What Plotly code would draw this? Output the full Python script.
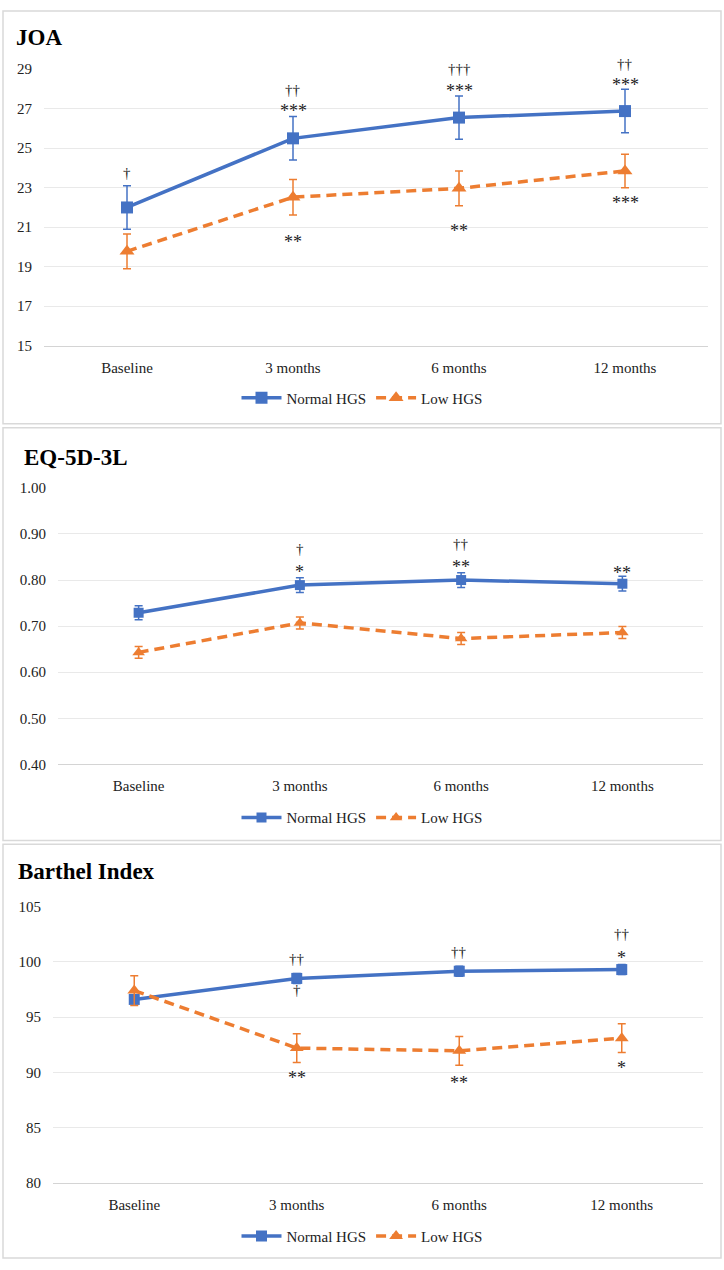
import plotly.graph_objects as go

# ---------------- data ----------------
categories = ["Baseline", "3 months", "6 months", "12 months"]

joa_normal = [22.0, 25.5, 26.55, 26.88]
joa_normal_err = [1.1, 1.1, 1.1, 1.1]
joa_low = [19.78, 22.52, 22.97, 23.85]
joa_low_err = [0.88, 0.9, 0.88, 0.85]

eq_normal = [0.729, 0.789, 0.800, 0.792]
eq_normal_err = [0.015, 0.016, 0.016, 0.016]
eq_low = [0.643, 0.707, 0.673, 0.686]
eq_low_err = [0.013, 0.013, 0.013, 0.013]

bi_normal = [96.6, 98.5, 99.15, 99.3]
bi_normal_err = [0.4, 0.45, 0.45, 0.45]
bi_low = [97.4, 92.2, 91.95, 93.1]
bi_low_err = [1.35, 1.3, 1.3, 1.3]

panel_titles = ["JOA", "EQ-5D-3L", "Barthel Index"]

# significance labels: (category index, series, text, pixel offset from marker)
joa_sig = [(0, "n", "†", 34), (1, "n", "***", 28), (1, "n", "††", 48),
           (2, "n", "***", 28), (2, "n", "†††", 49), (3, "n", "***", 27),
           (3, "n", "††", 47), (1, "l", "**", -44), (2, "l", "**", -42),
           (3, "l", "***", -31)]
eq_sig = [(1, "n", "*", 14), (1, "n", "†", 36), (2, "n", "**", 14),
          (2, "n", "††", 36), (3, "n", "**", 12)]
bi_sig = [(1, "n", "††", 19), (1, "n", "†", -12), (2, "n", "††", 19),
          (3, "n", "*", 13), (3, "n", "††", 36), (1, "l", "**", -29),
          (2, "l", "**", -31), (3, "l", "*", -29)]

# ---------------- style ----------------
W, H = 724, 1270
BLUE = "#4472C4"
ORANGE = "#ED7D31"
FONT = "Liberation Serif"

panels = [
    dict(normal=joa_normal, nerr=joa_normal_err, low=joa_low, lerr=joa_low_err,
         sig=joa_sig, yr=[15, 29], dtick=2, fmt="d",
         px_x=(44, 708), px_y=(62, 342), box=(3, 3, 721, 421),
         title_xy=(14, 30), legend_y=395, msize=12),
    dict(normal=eq_normal, nerr=eq_normal_err, low=eq_low, lerr=eq_low_err,
         sig=eq_sig, yr=[0.4, 1.0], dtick=0.1, fmt=".2f",
         px_x=(58, 703), px_y=(486, 766), box=(3, 425, 721, 843),
         title_xy=(22, 455), legend_y=820, msize=10),
    dict(normal=bi_normal, nerr=bi_normal_err, low=bi_low, lerr=bi_low_err,
         sig=bi_sig, yr=[80, 105], dtick=5, fmt="d",
         px_x=(53, 703), px_y=(910, 1190), box=(3, 847, 721, 1266),
         title_xy=(16, 875), legend_y=1244, msize=11),
]

fig = go.Figure()
shapes = []
annotations = []
layout_extra = {}

for i, p in enumerate(panels):
    k = "" if i == 0 else str(i + 1)
    xa, ya = "x" + k, "y" + k
    leg = "legend" + k
    fig.add_trace(go.Scatter(
        x=categories, y=p["normal"], name="Normal HGS", xaxis=xa, yaxis=ya,
        mode="lines+markers", legend=leg, cliponaxis=False,
        line=dict(color=BLUE, width=3.5),
        marker=dict(symbol="square", size=p["msize"], color=BLUE),
        error_y=dict(type="data", array=p["nerr"], color=BLUE, thickness=1.5, width=4),
    ))
    fig.add_trace(go.Scatter(
        x=categories, y=p["low"], name="Low HGS", xaxis=xa, yaxis=ya,
        mode="lines+markers", legend=leg, cliponaxis=False,
        line=dict(color=ORANGE, width=3.5, dash="10px,6px"),
        marker=dict(symbol="triangle-up", size=p["msize"] + 1, color=ORANGE),
        error_y=dict(type="data", array=p["lerr"], color=ORANGE, thickness=1.5, width=4),
    ))

    x0, x1 = p["px_x"]
    yt, yb = p["px_y"]
    layout_extra["xaxis" + k] = dict(
        domain=[x0 / W, x1 / W], anchor=ya, type="category",
        categoryorder="array", categoryarray=categories, range=[-0.5, 3.5],
        showgrid=False, zeroline=False, showline=True, linecolor="#d4d4d4",
        linewidth=1, ticks="", ticklabelstandoff=8,
        tickfont=dict(family=FONT, size=15, color="#222222"), fixedrange=True,
    )
    layout_extra["yaxis" + k] = dict(
        domain=[1 - yb / H, 1 - yt / H], anchor=xa, range=p["yr"],
        dtick=p["dtick"], tick0=p["yr"][0], tickformat=p["fmt"],
        showgrid=True, gridcolor="#e9e9e9", gridwidth=1, zeroline=False,
        showline=False, ticks="", ticklabelstandoff=11,
        tickfont=dict(family=FONT, size=15, color="#222222"), fixedrange=True,
    )
    layout_extra[leg] = dict(
        orientation="h", x=0.5, xanchor="center", xref="paper",
        y=1 - p["legend_y"] / H, yanchor="middle", yref="paper",
        font=dict(family=FONT, size=15, color="#222222"),
        bgcolor="rgba(0,0,0,0)", itemwidth=40, tracegroupgap=0,
    )

    bx0, by0, bx1, by1 = p["box"]
    shapes.append(dict(type="rect", xref="paper", yref="paper",
                       x0=bx0 / W, x1=bx1 / W, y0=1 - by1 / H, y1=1 - by0 / H,
                       line=dict(color="#d9d9d9", width=1.5), fillcolor="rgba(0,0,0,0)",
                       layer="below"))

    tx, ty = p["title_xy"]
    annotations.append(dict(text="<b>" + panel_titles[i] + "</b>", xref="paper", yref="paper",
                            x=tx / W, y=1 - ty / H, xanchor="left", yanchor="middle",
                            showarrow=False, font=dict(family=FONT, size=23, color="black")))

    for ci, ser, txt, off in p["sig"]:
        vals = p["normal"] if ser == "n" else p["low"]
        is_star = "*" in txt
        annotations.append(dict(text=txt, x=categories[ci], y=vals[ci], xref=xa, yref=ya,
                                xanchor="center", yanchor="middle",
                                yshift=off - (1 if is_star else 0),
                                showarrow=False,
                                font=dict(family=FONT, size=18 if is_star else 15,
                                          color="#222222")))

fig.update_layout(
    width=W, height=H, margin=dict(l=0, r=0, t=0, b=0),
    paper_bgcolor="white", plot_bgcolor="white",
    shapes=shapes, annotations=annotations, **layout_extra,
)

fig.write_html("out.html")
